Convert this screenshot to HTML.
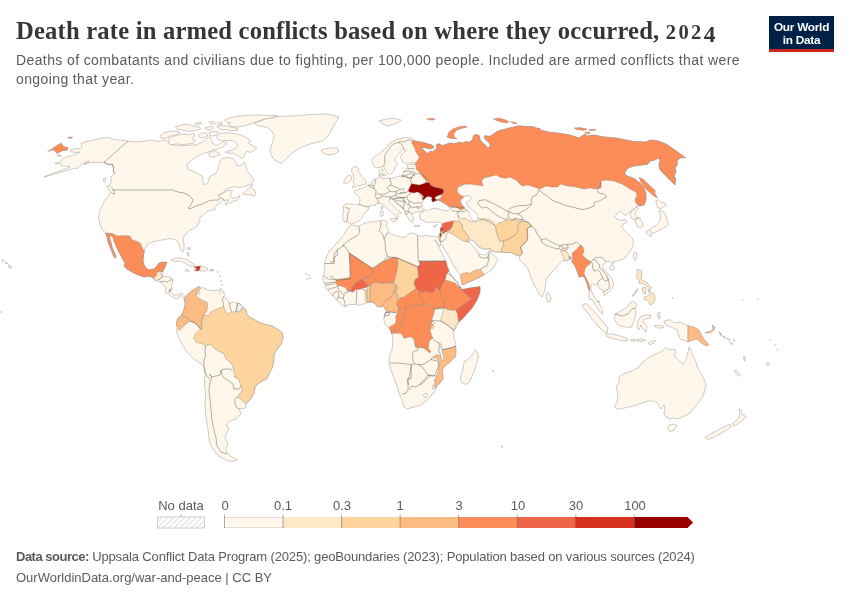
<!DOCTYPE html>
<html><head><meta charset="utf-8">
<style>
html,body{margin:0;padding:0;background:#fff;}
body{width:850px;height:600px;position:relative;overflow:hidden;font-family:"Liberation Sans",sans-serif;}
#title{position:absolute;left:16px;top:16.8px;font-family:"Liberation Serif",serif;font-weight:bold;font-size:24.6px;color:#363636;white-space:nowrap;letter-spacing:0.2px;}
#sub{position:absolute;left:16px;top:50.7px;font-size:14px;line-height:18.7px;color:#5b5b5b;white-space:nowrap;letter-spacing:0.39px;}
#logo{position:absolute;left:769px;top:16px;width:65px;height:33px;background:#002147;border-bottom:3px solid #ce261e;color:#fff;font-weight:bold;font-size:11.8px;line-height:12.6px;text-align:center;letter-spacing:-0.25px;}
#title .os{font-size:20.5px;letter-spacing:2.4px;}
#logo span{display:block;padding-top:5px;}
#src{position:absolute;left:16px;top:549.2px;font-size:13px;color:#5b5b5b;white-space:nowrap;letter-spacing:-0.15px;}
#src b{letter-spacing:-0.5px;}
#src2{position:absolute;left:16px;top:569.6px;font-size:13px;color:#5b5b5b;white-space:nowrap;}
.lg{position:absolute;top:497.5px;font-size:13px;line-height:15px;color:#5b5b5b;transform:translateX(-50%);white-space:nowrap;}
svg{position:absolute;left:0;top:0;}
#title,#sub,#src,#src2,.lg,#logo{will-change:transform;}
</style></head><body>
<svg width="850" height="600" viewBox="0 0 850 600">
<defs><pattern id="hatch" width="4" height="4" patternUnits="userSpaceOnUse" patternTransform="rotate(45)"><rect width="4" height="4" fill="#fff"/><line x1="0" y1="0" x2="0" y2="4" stroke="#d4d4d4" stroke-width="1.6"/></pattern></defs>
<g stroke="#8a8278" stroke-width="0.4" stroke-linejoin="round">
<path d="M81,143.6 86,141.6 94,140 102,138 109,137.4 113,139.2 120,140 128,141 136,142 144,141 152,140 158,141.6 164,140 170,142 169.9,144 177,145.7 188.3,145.4 196.8,144.7 199.7,143.3 202.5,141.9 206.8,138.3 210.3,136.9 211.7,140.5 213.1,144 215.3,145.4 218.1,144.7 222.3,141.9 225.9,141.9 226.6,144 223.8,146.8 219.5,148.3 216,149.7 212.4,150.4 208.2,152.1 202.5,153.9 196.8,156.8 190.5,161 186.9,164.5 188.3,169.5 194,171.6 199.7,174.5 203.2,176.6 202.5,180.8 203.9,184.4 207.5,183.7 208.9,180.1 209.6,176.6 215.3,173.8 218.1,169.5 218.8,165.3 220.2,161 222.3,158.2 228,157.5 233.7,158.9 235.8,162.4 237.2,166 240.8,165.3 244.3,162.4 246.4,166.7 247.1,170.9 250.7,175.2 253.5,179.4 253.5,181 252.5,182.5 250.5,184 248,185 244,186.5 240,187.5 236,187 232,187 228.5,188.5 225,190.5 222,193 219,195 218,196 220,194.8 224,192.5 228,190.5 232.5,190.5 231.5,193 230,195.5 231,197.2 234,198.5 237.5,197 239.7,195.5 239.7,198 237,200 233,201.5 229.5,203 226,204.7 225,203.5 227.2,201.8 228.8,200 226.5,200 224.5,200.5 223,200 220,202.5 217,205 214.5,207.5 215.5,208.5 215,209.5 212.5,210 209.5,210.5 207,211.5 205,213.5 203,215.5 200.5,217 199.5,219 200,220.5 199,223 197.5,226 194,228.5 190,230 186,234 183,238 184,244 184,249 183,252 181,251 180,247 178,242 176,240 172,238.6 167,239 162,240 157,241 152,242 147,245 144.4,250 143.6,254 143,260 144,265 146,268 149,270 154,269 157,266 159,263 163,262 167,262.4 165,267 163,271 162.4,276 170,277 173,280 172,284 171,289 169.2,289.6 171.7,292.5 173.3,294.6 175.8,295.4 178.3,294.2 180.4,292.9 182.9,293.8 184.6,295.8 185,298.3 184.6,301.7 183.8,298.8 182.5,297.5 181.2,295.4 179.2,295.8 178.8,297.9 176.7,299.2 174.2,297.5 172.1,296.7 170,295 167.5,293.3 165,292.5 166,288 163,284 160,282 155,280.4 153,278 150,276 144,277 138,275 132,272 127,269 124,266 125,263 122,258 119,252 116,246 114,241 113,237 110,235 109.6,238 111,242 112,247 114,252 116,256 115.6,258 114,257 112,252 110,247 108,242 107,237 105.6,233 103,230 100,225 98.4,218 100,210 104,202 109,195 112,190 114,190 114.4,194 112,193 109.6,188 109.6,185 111.2,182 110.6,179 111.6,176 114.4,174 113,172 113.6,168 112,164 108,164.4 104,162.4 98,162.4 92,162.4 84,164.4 89,161.6 88,161 81,165 77,169 76,168 68,170 44.4,177.2 44,176.6 70,167 69,166 64,166.4 61,165 60,161.6 63,158.4 68,156.4 76,154.4 80,152 76,152.4 70,151.6 71,149.6 77,148.4 80,149 82,147Z" fill="#fff7ec"/>
<path d="M105.6,233 112,233.6 118,236 125,235.6 130,236 132,240 136,241 140,243 142,247 143,250 144.4,250 143.6,254 143,260 144,265 146,268 149,270 154,269 157,266 159,263 163,262 167,262.4 165,267 163,271 161,271.6 157,272 156,276 153,278 150,276 144,277 138,275 132,272 127,269 124,266 125,263 122,258 119,252 116,246 114,241 113,237 110,235 109.6,238 111,242 112,247 114,252 116,256 115.6,258 114,257 112,252 110,247 108,242 107,237Z" fill="#fc8d59"/>
<path d="M153,278 156,276 157,272 161,271.6 161,275 162,277 159,280 155,280.4Z" fill="#fee8c8"/>
<path d="M47.6,151.6 52.4,148.4 61,143 63.6,146.4 68,147.6 67.6,150 62,151 57,153.6 54,150 51.6,150Z" fill="#fc8d59"/>
<path d="M67.6,138 70,137 72.8,137.2 70.4,138.4Z" fill="#fc8d59"/>
<path d="M55,163 59,162.6 59.2,163.6 55.6,164Z" fill="#fff7ec"/>
<path d="M57,155 61,155.2 61.2,156.2 57.6,156Z" fill="#fff7ec"/>
<path d="M103.2,179 105.6,178 105.6,180.4 104,182.4Z" fill="#fff7ec"/>
<path d="M106.6,186.4 109,185.6 114,190 114.4,194 112,193 109,190Z" fill="#fff7ec"/>
<path d="M321,150 328,148 337,148 339,151 335,154 328,155 323,153Z" fill="#fff7ec"/>
<path d="M242.5,193.5 245,191.5 248,189 251,185 252.5,184.5 251.5,187.5 253,189 255,190.5 255.8,193.5 254.5,196.2 252.5,195.8 251.5,194 249.5,195 247,194.5 244.5,194.5Z" fill="#fff7ec"/>
<path d="M171,260 176,258 182,258 188,260 192,263 195,265 194,266.4 189,265.6 185,263 180,261 175,261.6Z" fill="#fff7ec"/>
<path d="M194,267 196,266.4 201,266 200,268 199.6,270 198,271 194,270.4 197,269Z" fill="#d7301f"/>
<path d="M201,266 205,267 208,269 205,271 199.6,271 200,268Z" fill="#fff7ec"/>
<path d="M209.6,269.6 213.6,269.6 213.6,271 209.6,271Z" fill="#f0f0f0"/>
<path d="M185,270 188,269.4 189.6,271 186.4,271.8Z" fill="#fff7ec"/>
<path d="M187,248 190,247.6 190.4,249.2 188,249.6Z" fill="#fff7ec"/>
<path d="M187,252.4 189,252.4 189,255.6 187.6,255.6Z" fill="#fff7ec"/>
<path d="M8.4,265 11.2,266 11,268.4 9,267.6Z" fill="#fff7ec"/>
<path d="M5,262 7.6,263 7.2,264 5.2,263.2Z" fill="#fff7ec"/>
<path d="M2,260 3.6,260.4 3.4,261.2 2,261Z" fill="#fff7ec"/>
<path d="M160,136.2 164.3,132.7 169.9,131.3 177,131.3 179.8,132.7 175.6,134.8 169.9,136.2 165.7,138.3 161.4,138.3Z" fill="#fff7ec"/>
<path d="M168.5,138.3 174.2,136.2 181.3,134.1 188.3,134.8 194,133.4 194.7,136.2 191.9,139 195.4,140.5 193.3,143.3 188.3,144 182.7,144.7 177,144 171.3,144.7 167.8,143.3 169.2,140.5Z" fill="#fff7ec"/>
<path d="M175.6,127 181.3,124.9 188.3,124.2 194,126.3 199.7,127 200.4,129.1 195.4,130.5 188.3,131.3 182.7,129.8 177,129.1Z" fill="#fff7ec"/>
<path d="M194.7,123.5 200.4,122 201.1,123.5 196.1,124.9Z" fill="#fff7ec"/>
<path d="M198.3,134.8 202.5,132.7 206.8,133.4 207.5,136.2 203.9,137.6 199.7,137.6Z" fill="#fff7ec"/>
<path d="M208.9,132.7 213.8,131.3 218.8,132 216.7,134.8 212.4,136.2 209.6,135.5Z" fill="#fff7ec"/>
<path d="M205.3,127.7 210.3,126.3 213.8,127.7 211,129.8 206.8,129.8Z" fill="#fff7ec"/>
<path d="M208.9,122 213.1,121.3 215.3,123.5 211,124.2Z" fill="#fff7ec"/>
<path d="M217.4,122.8 221.6,122 222.3,124.2 218.8,124.9Z" fill="#fff7ec"/>
<path d="M216.7,126.3 222.3,125.6 228,126.3 233.7,127.7 237.9,128.4 237.2,130.5 230.8,130.5 225.2,129.8 219.5,129.1Z" fill="#fff7ec"/>
<path d="M224.5,119.9 230.8,117.8 236.5,116.4 245,115.4 256.3,115 267.7,115.4 277.6,115.7 271.9,117.8 264.8,119.2 259.2,120.6 253.5,122.8 247.8,124.9 242.2,126.3 236.5,127 230.8,126.3 228,124.2 230.8,122.8 226.6,122Z" fill="#fff7ec"/>
<path d="M216.7,136.2 220.9,133.4 226.6,132.7 233.7,133.4 240.8,134.8 246.4,137.6 250.7,140.5 248.5,143.3 253.5,146.1 257,147.5 254.2,150.4 250.7,152.5 247.1,151.1 245,153.9 243.6,157.5 240.8,158.2 237.2,155.3 233.7,153.2 229.4,153.2 225.2,152.5 226.6,151.1 232.3,150.4 236.5,147.5 237.9,144.7 235.1,141.9 230.8,140.5 226.6,140.5 222.3,140.5 218.1,139.8Z" fill="#fff7ec"/>
<path d="M208.9,153.2 213.8,150.4 218.1,152.5 220.2,154.6 216.7,156 213.1,157.5 209.6,156Z" fill="#fff7ec"/>
<path d="M254.2,123.5 259.2,121.3 264.8,119.2 271.9,117.8 278.3,116.4 278,116.4 298,115.6 310,114.4 328,114 339,117 336,122 332,129 328,136 324,140 318,142 310,144 300,148 292,153 286,159 281,163.6 276,161 272,157 270,150 271.9,144 273.3,139.8 274,135.5 271.9,131.3 267.7,127.7 262,126.3 257.8,125.6Z" fill="#fff7ec"/>
<path d="M184.9,299.8 186.5,295.7 190.6,291.6 194.8,289.1 198.9,286.3 200.2,288.3 202.2,287.4 208,289.9 213.8,290.7 219.5,289.9 223.7,291.6 224.5,295.7 223.7,296.5 227,299 229.4,303.1 233.6,302.3 237.4,303.1 240.2,303.9 242.6,307.2 243.5,308.1 245.9,309.7 246.8,313.8 249.2,317.1 254.2,319.6 260,322.9 265.8,324.6 272.4,326.2 278.1,329.5 282.3,332.8 283.1,337.8 281.4,343.6 277.3,349.3 274,354.3 273.7,360.9 272.4,367.5 269.1,374.1 266.6,379.1 264,380 259,383 255,387 254,393 252,397 249,401 246,404 245.6,408 241,409 237,408 239,409 241,414 236,419 230,421 226,426 229,428 227,432 225,438 228,444 226,449 227,453 230,456 234,458 237,460 232,461.6 226,460 220,457 215,452 211,446 209,440 208.4,432 207,424 205.6,414 205,404 205.6,394 204.4,384 205,374 204,367 203.8,365.8 198.9,362.5 193.1,358.4 188.2,353.5 184,347.7 179.9,340.3 177.4,334.5 176.3,329.5 177.4,327.9 176.3,323.8 177.4,319.6 179.1,317.1 181.6,315.5 183.5,310.5 185.2,304.8Z" fill="#fff7ec"/>
<path d="M208.8,315.5 210.4,312.2 215.4,309.7 219.5,308.1 223.7,306.4 225.3,310.5 227.8,313.8 231.9,312.2 236,311.4 238.5,311.7 241,309.7 243.5,308.1 245.9,309.7 246.8,313.8 249.2,317.1 254.2,319.6 260,322.9 265.8,324.6 272.4,326.2 278.1,329.5 282.3,332.8 283.1,337.8 281.4,343.6 277.3,349.3 274,354.3 273.7,360.9 272.4,367.5 269.1,374.1 266.6,379.1 264,380 259,383 255,387 254,393 252,397 249,401 246,404 242,400 237,397 242,391 241,386 239,380 234,376 236,377.4 233.6,371.6 232.7,365.8 229.4,361.7 226.1,359.2 223.7,353.5 217.9,351 213.8,347.7 210.4,344.4 205.5,346 202.2,343.6 196.4,342.7 193.9,338.6 194.8,334.5 198.1,331.2 202.2,328.7 201.4,324.6 202.2,318.8 203.8,314.7Z" fill="#fdd49e"/>
<path d="M198.9,286.3 200.2,288.3 197.2,292.4 196.4,295.7 198.9,298.2 203,300.6 207.1,302.3 207.6,306.4 206.7,311.4 203.8,314.7 202.2,318.8 201.4,324.6 201.7,328.7 200.5,329.2 197.2,324.6 192.3,322.1 188.2,318.8 184.9,317.1 181.6,315.5 183.5,310.5 185.2,304.8 184.9,299.8 186.5,295.7 190.6,291.6 194.8,289.1Z" fill="#fdbb84"/>
<path d="M181.6,315.5 184.9,317.1 188.2,318.8 189.5,321.3 185.7,324.6 181.6,327.9 179.1,330.4 177.4,327.9 176.3,323.8 177.4,319.6 179.1,317.1Z" fill="#fdbb84"/>
<path d="M237.4,303.1 240.2,303.9 242.6,307.2 241,309.7 238.5,311.7 236,311.4 236.9,307.2Z" fill="#f2f2f2"/>
<path d="M197.4,290.9 199.4,290.6 199.7,293.5 198.1,294.2Z" fill="#fff"/>
<path d="M372.1,159.2 374.2,156.7 377.5,155 380.8,152.5 384.2,149.6 387.1,146.2 390,143.3 393.3,140.8 397.5,139.2 401.7,138.3 405.8,137.5 410,137.7 412.9,138.8 414.6,140.4 415,141.2 419.2,141.7 423.3,142.5 427.5,143.8 431.7,145 433.8,146.7 432.9,148.3 430,148.8 426.7,147.9 423.3,147.5 420.4,147.9 423.3,149.6 425,151.2 426.2,152.9 427.9,153.3 429.2,152.1 430.8,151.2 432.9,151.7 434.6,150 437.1,148.8 436.3,144.7 438.8,143.8 442.1,145.5 444.6,145 449.5,143 454.5,143.8 459.4,142.2 463.6,143 465.2,141.4 469.3,142.2 472.6,139.7 473.5,135.6 475.9,134.4 479.2,135.6 480.1,139.7 482.5,143 485.8,145.5 487.5,148 490,147.1 490,143.8 486.7,140.5 484.2,138.1 485,135.6 489.2,136.4 492.5,134.8 495.8,132.3 499.1,130.6 505.7,129 512.3,127.3 518.9,125.7 525.5,126.5 532.1,126.5 537,128.2 540,128.5 540,130 550,132.4 558,133 570,135 576,137 579,138 585,134 587,136 594,135 604,137 616,138 626,140 634,141.6 646,142 650,140 658,141 666,144 672,148 679,153 685.6,157.6 680,158 677,161 677.6,164 675,168 676,172 674,176 675.6,179 675,185 670,180 664,174 660,170 659,165 660,160 658,158 655,160 650,161 648,164 642,165 634,166 628,168 625,172 625,175 630,177 635,179 640,183 644,188 646,194 646,200 644,205 639,206 638.4,205.5 636.8,206.3 638.4,208.8 635.9,211.3 635.1,214.6 636.8,217.1 640.1,218.7 642.5,222.8 643.4,226.1 640.9,227.8 637.6,227 635.9,222.8 635.1,219.5 631.8,218.7 630.2,215.4 631,211.3 627.7,213.8 625.2,215.4 622.7,213.3 620.3,211.3 617,213.8 614.5,217.1 617.8,219.5 621.9,220.4 625.2,219.5 626.9,222 623.6,223.7 621.9,227 625.2,231.1 629.3,235.2 632.6,238.5 633.5,243.5 631.8,248.4 629.3,252.5 626,256.7 621.9,260 620,259.5 617,261 613,261.5 613.5,263.5 612,264.5 611,262.5 609,261.5 606,261.5 604,264 602.5,266.5 603.5,269 606.5,272 609.5,275.5 612,279 613.5,283 613,287 610,291 606.5,294 604.5,295.5 603.5,293 603,290 600,289 598.5,287 597.5,284.5 595,285 593,283.5 591.5,285 591,288 591.5,291 593,294.5 595,298 596,300 597,301 599,303 602,309 603,314 600,312 596,306 592,299 590,300 588.5,296 589,293 589.5,291 588.5,289 587.5,285 586,281 584.5,277.5 582,276 580,277 579,277 577,271 575,266 572,262 570,257 568,260 565,261 563,260 560,263 555,269 550,274 546,280 545,290 542,297 540,295 535,286 531,278 528,269 524,264 523,263 520,260 519,257 522,254 520,255 517,255.5 514,253.5 510,252.5 506,252.5 501,252 496,252 492,251 489.5,248 486.5,249 483,249 480,247.5 477,245 475,242.5 473,240 470,240 467.5,241 469,242.5 471,244 473,246.5 475.5,249 476.5,251.2 477.2,250.5 478.5,251.5 478.2,253.5 479.5,254 481.5,254.5 484,255 487,254 489,251.5 489.7,249.5 491,253 494,256 497,258.5 497.8,260.5 496,263 494.5,266 492,269 489.5,271.5 487,273 484,274.7 480,277 475,279.5 470,281.5 466,283.5 462.5,285 461.5,282 461,276 459.5,274 457,270.5 454,266 451,261 448,255 445,250 442,245 440,241.5 440,241.5 438.5,236.5 439.2,235 440.4,232.1 440.8,227.9 441.8,224.2 440.8,222.5 438.3,222.1 435,222.5 431.7,222.1 428.3,222.5 425,221.7 422.5,220 420,219.2 420.4,218.3 419.6,215.8 420,213.8 420.7,212.1 421.7,211.8 423.8,212.1 424.3,211.2 422.1,210 420.4,210.8 418.8,212.1 417.5,211.7 415.8,212.5 414.2,213.8 412.9,212.9 411.7,213.8 412.1,215.8 413.3,217.5 414.2,219.2 412.5,220 412.9,221.7 411.7,222.5 410,221.2 408.8,219.2 407.5,217.1 406.2,215.4 405,213.8 404.6,211.7 404.2,210 402.9,208.8 400.8,207.1 398.3,205 396.2,202.9 394.2,201.2 392.9,199.6 391.7,198.8 390.4,199.2 388.8,200 389.6,201.7 391.2,203.8 392.9,205.8 395,207.9 397.5,210 399.6,211.2 401.7,212.9 400.8,213.8 398.8,212.9 397.5,214.2 398.8,216.2 397.9,217.9 397.3,219.3 396,219 396.2,216.2 394.2,214.6 391.7,212.5 389.2,210.4 386.7,208.3 384.2,205.8 382.1,203.8 380,202.9 377.9,203.2 375,205 375.8,205 373.3,205.4 370.8,205 369.2,206.7 369.2,207.9 367.9,210.4 365,212.5 362.5,215.8 361.7,218.3 359.2,220.8 355.8,222.5 352.9,223.3 350.8,224.2 349.2,222.9 347.1,221.7 343.8,221.7 342.9,219.2 342.5,215.8 343.8,211.7 343.3,208.3 343.3,205.8 346.7,203.8 351.7,204.2 359.2,205 359.6,202.5 360,200 359.6,197.5 357.9,195.4 355.4,193.8 353.8,191.7 355.8,190.4 359.2,190 359.6,188.3 361.7,188.8 364.2,187.5 366.7,185.8 367.9,184.6 369.6,185.4 371.7,182.9 372.9,180.8 375,179.2 377.5,178.8 378.8,177.5 379.2,175 378.8,172.5 378.8,170.8 380.4,169.2 382.5,168.8 383.3,170 382.1,172.5 381.7,174.6 382.9,175.4 380.4,177.9 383.3,178.8 386.7,178.3 390,178.3 393.3,177.9 396.7,176.7 399.2,176.2 401.2,175.8 402.9,175 403.3,172.9 403.8,170.8 405.8,169.2 407.1,168.3 407.9,169.6 408.3,168.8 407.5,166.7 406.7,165 410,164.6 415,164.3 416.2,163.8 415,162.9 410,162.9 406.7,163.3 404.6,162.9 402.5,161.7 401.7,160 400.8,157.9 401.2,155.8 402.5,153.8 404.2,151.7 406.2,150.4 404.2,149.6 402.5,150 400.8,151.7 399.2,153.8 397.5,155.8 395.4,157.9 394.6,160 396.2,162.1 397.5,163.3 397.1,165.4 395.4,166.7 394.6,168.8 394.2,170.8 392.9,172.5 390.8,173.8 389.2,174.2 387.5,173.3 386.2,171.7 385,169.2 383.8,167.1 383.3,165.8 381.7,166.7 379.6,167.5 377.1,167.9 375,167.1 373.3,165 372.5,162.5 371.8,160.4Z" fill="#fff7ec"/>
<path d="M412.9,140.8 414.6,140.4 415,141.2 419.2,141.7 423.3,142.5 427.5,143.8 431.7,145 433.8,146.7 432.9,148.3 430,148.8 426.7,147.9 423.3,147.5 420.4,147.9 423.3,149.6 425,151.2 426.2,152.9 427.9,153.3 429.2,152.1 430.8,151.2 432.9,151.7 434.6,150 437.1,148.8 436.3,144.7 438.8,143.8 442.1,145.5 444.6,145 449.5,143 454.5,143.8 459.4,142.2 463.6,143 465.2,141.4 469.3,142.2 472.6,139.7 473.5,135.6 475.9,134.4 479.2,135.6 480.1,139.7 482.5,143 485.8,145.5 487.5,148 490,147.1 490,143.8 486.7,140.5 484.2,138.1 485,135.6 489.2,136.4 492.5,134.8 495.8,132.3 499.1,130.6 505.7,129 512.3,127.3 518.9,125.7 525.5,126.5 532.1,126.5 537,128.2 540,128.5 540,130 550,132.4 558,133 570,135 576,137 579,138 585,134 587,136 594,135 604,137 616,138 626,140 634,141.6 646,142 650,140 658,141 666,144 672,148 679,153 685.6,157.6 680,158 677,161 677.6,164 675,168 676,172 674,176 675.6,179 675,185 670,180 664,174 660,170 659,165 660,160 658,158 655,160 650,161 648,164 642,165 634,166 628,168 625,172 625,175 630,177 635,179 640,183 644,188 646,194 646,200 644,205 639,206 636,203 635,200 637,195 636,192 630,189 622,184 614,181 606,180 601,181 601,188 596,189 590,188 584,189 576,187 568,186 560,184 558,187 552,187 546,186 540,189 534,187 528,185 522,186 516,180 510,177 505.5,178.3 500.5,177.4 496.4,175 489.8,176.6 483.2,178.3 481.6,181.6 483.2,185.7 476.6,184.9 470,184 464.4,184.3 459.4,186.8 465,183.3 461.7,184.6 458.8,186.2 457.5,188.3 457.1,191.7 459.2,194.2 461.7,195.8 464.2,196.7 462.9,197.9 460.8,199.2 460,201.7 461.7,205 464.2,207.5 465,208.2 462.9,209.2 460.8,210 458.3,208.3 455.8,207.1 452.5,206.7 449.2,207.1 446.7,205 443.3,202.9 440.4,201.2 438.3,200.4 438.3,199.2 440.4,197.9 441.7,196.2 441.2,194.6 443.3,192.9 443.8,190 441.7,188.8 438.3,187.9 434.2,187.1 430.8,185.4 429.2,182.5 423.1,177.7 420.6,173.6 416.5,169.4 415.7,165.3 415.4,163.3 416.7,161.7 418.3,159.2 419.2,156.7 417.5,154.2 415.8,151.7 415,148.3 413.3,145.4 411.7,142.9Z" fill="#fc8d59"/>
<path d="M408.3,190.4 410.4,185.8 411.7,183.8 415,184.2 419.2,185 423.3,183.8 426.2,182.5 429.2,182.5 430.8,185.4 434.2,187.1 438.3,187.9 441.7,188.8 443.8,190 443.3,192.9 441.2,194.6 438.3,195.4 435.8,196.7 434.8,197.9 435.8,199.3 437.9,199.8 436.7,200.8 434.6,201.2 433.3,202.5 432.1,201.2 431.2,199.6 432.1,198.3 430.8,197.1 428.3,196.7 426.7,197.1 425,198.3 424.2,199.6 422.1,199.6 422.5,197.9 423.8,197.1 422.5,195.4 420.8,193.8 419.2,192.5 416.7,192.1 414.2,192.9 411.7,192.5 409.2,192.1Z" fill="#990000"/>
<path d="M401.2,176.2 402.9,175.2 405.4,175.7 405.8,176.7 401.7,176.8Z" fill="#fc8d59"/>
<path d="M639.2,177.4 640.6,181.6 643.9,186.5 647.2,190.6 650.5,193.1 652.9,195.6 657.4,197.7 655.8,194.8 654.6,192.3 655.3,190.6 652,187.8 648.7,184.5 645.4,181.2 642.5,178.8Z" fill="#fc8d59"/>
<path d="M447.1,137.2 448.7,132.3 452.8,129 459.4,126.5 466,126 466.9,127.3 461.1,128.5 456.1,130.6 453.7,133.9 454.5,137.2 457,138.9 451.2,138.4Z" fill="#fc8d59"/>
<path d="M426.4,119.1 431.4,118.3 435.5,119.1 432.2,120.2Z" fill="#fc8d59"/>
<path d="M493.3,119.1 499.1,117.9 505.7,119.9 509,121.9 505.7,122.9 499.1,121.6Z" fill="#fc8d59"/>
<path d="M510.6,121.6 515.6,122.4 517.2,124 513.1,123.5Z" fill="#fc8d59"/>
<path d="M574,128 580,127.6 587,129 584,130.4 577,129.6Z" fill="#fc8d59"/>
<path d="M589,129.4 596,129.6 595,130.6 589.6,130.4Z" fill="#fc8d59"/>
<path d="M585,132 590,132.4 589,134 585.6,133.6Z" fill="#fc8d59"/>
<path d="M379,121 386,119 394,118.4 401,120 398,122.4 394,124 388,126 383,124Z" fill="#fff7ec"/>
<path d="M422.1,203.3 422.9,201.2 424.6,199.2 426.7,197.1 428.3,196.7 430.8,197.1 432.1,198.3 431.2,199.6 432.1,201.2 433.3,202.5 434.6,201.2 436.7,200.8 438.3,200.4 440.4,201.2 443.3,202.9 446.7,205 449.2,207.1 450,208.8 448.3,210.4 445,210.8 441.7,210 438.3,208.8 435,208.3 431.7,208.8 429.2,210 426.7,210.4 424.2,209.6 422.5,207.9 421.7,205.4Z" fill="#fff"/>
<path d="M435,197.9 436.7,196.7 439.2,195.8 441.2,195 441.7,196.2 440.4,197.9 438.3,199.2 436.2,199.3Z" fill="#fff"/>
<path d="M461.2,199.8 464.5,196.5 469.4,195.6 471.9,198.1 469.4,200.6 466.1,202.2 467.8,206.4 471.1,208.8 474.4,211.3 476.8,214.6 478.5,218.7 476,221.2 472.7,220.4 470.2,217.1 469.4,212.9 466.9,209.6 463.6,206.4 461.2,203.1Z" fill="#fff"/>
<path d="M351.7,168.8 353.8,166.7 356.7,166.5 357.9,167.9 359.2,169.2 357.9,171.2 360,173.3 362.1,176.7 364.2,179.2 366.5,181.2 366.2,183.3 364.2,184.6 361.7,185 358.3,185.8 355.4,186.7 352.9,187.9 351.7,187.3 353.8,185.4 355,183.8 352.9,182.9 353.8,180.8 354.6,178.8 352.9,177.5 353.8,175 352.1,172.9 351.7,170.8Z" fill="#fff7ec"/>
<path d="M343.3,182.9 344.6,180.4 345.8,177.5 348.3,175.4 350.8,175.4 351.7,177.5 351.2,180 349.2,182.1 346.2,183.3Z" fill="#fff7ec"/>
<path d="M389.6,219.2 393.3,218.3 396.7,218.8 396.2,220.8 394.6,222.1 391.7,220.8Z" fill="#fff7ec"/>
<path d="M380.4,211.2 382.5,210.8 383.8,212.9 382.9,215.8 381.2,216.7 380.4,214.6Z" fill="#fff7ec"/>
<path d="M380.8,206.7 382.5,205.8 382.9,208.3 381.7,209.6Z" fill="#fff7ec"/>
<path d="M433.3,226.2 435,225.4 437.5,224.6 436.7,225.8 435.4,227.1 433.8,227.1Z" fill="#fff7ec"/>
<path d="M414.2,225.4 416.7,225 420,225.7 419.6,226.7 416.2,226.5 414.6,226.2Z" fill="#fff7ec"/>
<path d="M382.9,174.2 385,173.8 385.8,175.4 383.8,176.2Z" fill="#fff7ec"/>
<path d="M330,250 333.3,247.1 338.3,241.3 343.2,235.5 346.5,230.5 348.3,227.5 350.8,224.6 354.2,225.4 358.8,226.2 363.3,223.8 368.3,222.1 374.2,221.7 380,220.8 383.3,220.4 386.7,221.2 387.1,222.9 385.8,225 387.1,227.5 388.8,229.6 388.3,232.1 391.1,233.8 396,235.5 401,237.1 405.9,237.1 408.4,233.8 412.5,233 416.7,234.7 420,236.3 425.8,235.5 432.4,236.3 437.3,237.1 438.5,236.5 440,241.5 440.4,245 439.8,246.7 437.9,244.2 435.8,240.8 434.8,239.8 434.2,240.4 435.4,240.2 438.8,246.7 441.2,251.7 443.8,256.7 445.4,260 445.6,261.1 447.5,266.9 449.2,271.3 451.3,275.9 455.5,280.9 460.4,286.7 462.1,289.2 462,289.6 470,288 480,286.6 480,292 477,300 472,308 465,316 459,322 456,328 453,330 454,338 456,345 455,350 456,350 455,357 451,361 446,365 442,369 441.6,374 443,379 440,383 437,385 436,388 435,391 431,396 426,401 421,405 414,407 407,409 404,407 402,400 399,393 397,386 394,378 391,370 389,363 389.6,356 392,350 393,342 392.4,336 391,331 389,328 385,324 383.6,319 385,313 384.5,318 385.2,313.8 387.3,312.3 385.9,309.5 383.8,306 380.9,307.4 377.4,306.7 375.3,303.8 372.4,302.4 368.2,302.4 363.9,303.8 359.7,305.3 355.4,304.5 349.8,304.5 345.5,306.7 341.3,304.5 337,300.3 332.8,296 329.9,292.5 327.8,289.7 325,287.5 325.7,285.4 324.3,283.3 322.8,279.8 323.5,275.5 325,269.8 324.3,263.5 325,261.3 327.1,255.7 329.9,250Z" fill="#fff7ec"/>
<path d="M349,252.8 371.7,267.7 373.1,268.4 372.7,273.4 371,276.2 366.8,277.6 363.2,278.3 360.4,279.8 357.5,281.9 354,284.7 351.9,288.3 350.5,291.1 347.6,291.1 345.5,287.5 341.3,286.1 337.7,285.4 335.6,282.6 336.3,279.8 349.8,277.6 350.5,276.9 350,264.2Z" fill="#fc8d59"/>
<path d="M351.9,288.3 354,284.7 357.5,281.9 360.4,279.8 362.5,279 365.3,281.9 367.5,284.7 368.2,286.1 366,287.5 362.5,288.5 358.3,289.4 354.7,289.7 354,291.8 351.5,291.8 350.9,290.4Z" fill="#ef6548"/>
<path d="M373.1,268.4 385.9,259.9 393.7,257.1 397.2,257.8 397.9,262 397.6,267 396.5,272.7 395.1,277.6 393.7,282.6 389.4,283.3 385.2,283.3 380.2,282.9 376,282.3 372.4,282.9 370.3,285.4 368.2,286.1 367.5,284.7 365.3,281.9 363.2,278.8 366.8,277.6 371,276.2 372.7,273.4Z" fill="#fc8d59"/>
<path d="M397.2,257.8 417.8,266.3 418.5,277.6 414.9,279.8 414.2,284 416.3,288.3 412.8,291.1 408.5,293.9 403.6,297.5 400,298.2 397.2,294.6 394.4,291.1 397.2,288.3 395.8,285.4 393.7,282.9 395.1,277.6 396.5,272.7 397.6,267 397.9,262Z" fill="#fdd49e"/>
<path d="M370.3,285.4 372.4,282.9 376,282.3 380.2,282.9 385.2,283.3 389.4,283.3 393.7,282.9 395.8,285.4 395.1,289 393.7,292.5 391.5,296 389.4,298.9 386.6,300.3 383.8,303.1 382.3,306 379.5,306.7 376.7,306 374.5,303.1 370.3,301.7 369.6,298.2 369.6,292.5Z" fill="#fdbb84"/>
<path d="M393.7,292.5 395.1,289 395.8,285.4 397.2,288.3 396.5,291.8 394.4,291.1 397.2,294.6 398.6,298.9 397.2,301.7 397.2,305.3 398.6,308.1 399.3,311.6 395.1,312.3 390.1,311.6 385.9,310.9 384.5,308.1 382.3,306 383.8,303.1 386.6,300.3 389.4,298.9 391.5,296Z" fill="#fdbb84"/>
<path d="M367.5,286.8 370.3,285.4 369.6,292.5 369.9,301.7 367.9,302.1 367.5,296.8 366.8,291.1Z" fill="#fdd49e"/>
<path d="M365.1,290.4 366.8,289.7 367.5,296.8 367.9,302.1 366,302.4 365.3,296.8Z" fill="#fdd49e"/>
<path d="M397.2,301.7 400,298.2 403.6,297.5 408.5,293.9 412.8,291.1 416.3,288.3 419.2,291.1 420.6,295.3 423.4,299.6 426.3,303.8 424.1,304.5 419.2,305.3 414.9,306 410.7,306.7 407.1,306 405,308.8 402.2,309.5 400.8,312.3 399.3,311.6 398.6,308.1 397.2,305.3Z" fill="#fc8d59"/>
<path d="M419.9,261.3 446,261 447,266 449,271 447,273 445,280 442,285 440,290 438,289 436,287 434,292 430,293 426,291 423,293 419.2,291.1 416.3,288.3 414.2,284 414.9,279.8 418.5,277.6 417.8,266.3 419.9,265.9Z" fill="#ef6548"/>
<path d="M419,291 423,293 426,291 430,293 434,292 436,287 438,289 440,290 441,296 444,301 443.7,307.8 438,308.5 433.8,308.8 428.8,306.4 424,302 420,297Z" fill="#fc8d59"/>
<path d="M445,280 449,281 455,283 460,288 463,291 468,296 473,298 462.1,305.7 457.8,308.5 455.7,309.9 452.2,310.6 447.2,309.2 443.7,307.8 444,301 441,296 440,290 442,285Z" fill="#fc8d59"/>
<path d="M462,289.6 470,288 480,286.6 480,292 477,300 472,308 465,316 459,322 459.3,322 458.5,321.3 457.8,317 457.1,312.8 455.7,309.9 457.8,308.5 462.1,305.7 473,298 468,296 463,291Z" fill="#ef6548"/>
<path d="M406.8,306.4 410.4,305.7 415.3,306.4 420.3,305 425.3,304.3 428.8,306.4 433.8,307.8 434.5,310.6 433,315.6 431.6,321.3 430.9,326.2 430.2,330.5 431.6,335.4 433,338.3 429.5,340.4 428.8,343.9 428.1,348.9 430.2,350.3 430.9,352.1 429.2,352.7 426.7,350.3 423.8,348.2 419.6,347.5 415.3,346.8 414.6,343.2 413.9,339 410.4,336.8 407.5,337.5 404,338.3 401.9,334.7 400.5,333.3 392.7,333.3 391.3,331.2 393.4,330.5 398.3,330.5 400.5,326.9 401.9,322.7 403.3,318.4 404,314.2 404.7,309.9Z" fill="#fc8d59"/>
<path d="M398.3,309.2 402.6,310.6 404.7,308.5 406.8,306.4 404.7,309.9 404,314.2 403.3,318.4 401.9,322.7 400.5,326.9 398.3,330.5 393.4,330.5 391.3,331.2 389.1,328.3 390.5,326.2 393.4,324.8 395.5,323.4 396.2,319.8 395.5,316.3 397.6,313.5Z" fill="#fc8d59"/>
<path d="M443.7,307.8 447.2,309.2 452.2,310.6 455.7,309.9 457.1,312.8 457.8,317 458.5,321.3 455.7,325.5 454.3,330.5 452.2,329 447.2,324.8 440.8,321 441.5,317 443,312.8Z" fill="#fee8c8"/>
<path d="M431.2,325.2 433,324.8 433.8,326.9 432.3,329 430.9,328.3Z" fill="#fdd49e"/>
<path d="M442.3,349.6 446.5,348.9 452.2,347.5 455.7,346 456.1,351 455.7,356.7 452.9,359.5 448.6,363 445.1,365.9 443,368.7 442.3,372.3 443.4,376.5 442.3,380 439.4,382.9 438,385 437,385 436,388 434.4,385 435,380 434.5,380.8 435.9,376.5 438,372.3 438.7,368 439.4,363.8 438,359.5 435.9,358.1 432.3,357.4 436.6,354.5 440.8,356 441.5,359.5 442.3,360.9 443.7,359.5 443.7,356 442.3,352.4Z" fill="#fdbb84"/>
<path d="M475.5,349.6 477.4,352.4 478.4,356.7 477,362.3 474.8,369.4 472,376.5 469.2,382.2 466.3,384.3 462.8,383.6 460.7,380.8 460.7,375.8 462.8,370.8 463.5,365.2 464.2,361.6 467.8,359.5 471.3,356 474.1,351.7Z" fill="#fff7ec"/>
<path d="M423,395 426,393 428,395.6 425,398Z" fill="#fff7ec"/>
<path d="M432,385.6 433.6,385 434.4,388 432.6,389Z" fill="#fff7ec"/>
<path d="M442.1,223.8 445,222.5 449.2,221.7 453.8,220.8 452.9,223.8 452.5,226.2 450.8,228.8 448.3,230.4 445.8,231.7 443.3,233.3 442.1,232.5 442.9,230.4 441.8,228.8 442.3,226.2Z" fill="#ef6548"/>
<path d="M440.8,227.9 442.1,227.1 442.9,228.8 442.3,230.8 440.8,232.1 440.4,230Z" fill="#d7301f"/>
<path d="M439,235.4 440.4,232.5 441.5,232.5 441.8,234.2 441.2,236.7 440.4,239.2 440,241.2 439.3,238.8Z" fill="#fdd49e"/>
<path d="M439.8,233.8 440.8,233.2 441.2,235 440.8,236.7 440,236.2Z" fill="#990000"/>
<path d="M452.9,223.8 453.8,221.2 455.8,220.8 459.2,221.7 461.2,223.3 462.9,226.2 462.5,228.8 464.2,230.8 466.2,233.3 468.3,235.8 469.2,238.8 467.9,240 466.7,241.7 464.2,241.2 461.7,240 459.2,238.3 455.8,236.2 452.5,234.2 449.6,232.9 448.8,231.5 450.8,228.8 452.5,226.2Z" fill="#fdd49e"/>
<path d="M457.9,215.8 460,217.9 461.7,219.2 465,218.3 471.1,222 477.6,221.2 484.2,218.7 489.2,219.5 494.1,222.8 494.8,225.3 495.6,226.1 496.4,231.9 498.1,236.9 499.7,241 503,241 503.8,245.1 501.4,249.2 502.2,252.1 501,252 496,252 492,251 489.5,248 486.5,249 483,249 480,247.5 477,245 475,242.5 473,240 470.4,240 469.2,238.8 468.3,235.8 466.2,233.3 464.2,230.8 462.5,228.8 462.9,226.2 461.2,223.3 459.2,221.7 458.8,219.2Z" fill="#fee8c8"/>
<path d="M495.6,226.1 498.9,222.8 503,222 507.1,219.5 510.4,220.4 513.8,218.7 515.4,217.9 517.1,221.2 522.8,220.4 524.5,221.2 519.5,222.8 517.9,226.1 518.2,231.1 515.4,235.2 512.1,236.9 508.8,239.3 503,241 499.7,241 498.1,236.9 496.4,231.9Z" fill="#fdd49e"/>
<path d="M519.5,222.5 524.5,220.8 527.8,222 531.9,226.1 527.8,227.8 527,231.1 527.8,235.2 527,240.2 524.5,243.5 520.4,246.8 521.2,249.2 522,254 520,255 517,255.5 514,253.5 510,252.5 506,252.5 501,252 501.4,249.2 503.8,245.1 503,241 508.8,239.3 512.1,236.9 515.4,235.2 518.2,231.1 517.9,226.1Z" fill="#fdd49e"/>
<path d="M461,274.5 463.5,273 467,272.5 470,273.5 472.5,271.5 476,270 480.5,269 481.5,271 483.5,274 484,274.7 480,277 475,279.5 470,281.5 466,283.5 462.5,285 461.5,282 460.8,278Z" fill="#fdbb84"/>
<path d="M560.5,250.9 564.1,250.6 567.4,252.2 569.1,255.8 569.1,260 567.4,260.5 564.9,260 563.3,256.7 561.6,253.4Z" fill="#fee8c8"/>
<path d="M580,244.4 583,247 584,251 582.5,255 585,258 588,260 591,262 589.5,264.5 587,266 585,269 584,273 585.5,277 587,280 588.5,283 590,287 589.5,291 588.5,289 587.5,285 586,281 584.5,277.5 582,276 580,277 579,277 577,271 575,266 572,262 573,257 572,253 576,250 579,247Z" fill="#fc8d59"/>
<path d="M637,270 639.5,269.5 641.5,270.5 642,274 641,277 641.5,280 644,281 646,282 648,284 650,286 651.5,288 650,289 648,287 645.5,285 643,284 640.5,283 639,284 639.5,281.5 638,279.5 636.5,277 637.2,273.5Z" fill="#fee8c8"/>
<path d="M642,288 645,287 646.5,289 645,291 646,293.5 644,294 642.5,291Z" fill="#fee8c8"/>
<path d="M648,289 650,290 650.5,292 648.5,292.5Z" fill="#fee8c8"/>
<path d="M644,297 647,296 650,294 652.5,293 654.5,294.5 655,298 654.5,301 652.5,304 650,305 649,302 646.5,300 644.5,299.5Z" fill="#fee8c8"/>
<path d="M632,296 634,293.5 636,290.5 637.8,288.5 638.2,289.2 636.5,291.5 634.5,294.5 632.8,296.5Z" fill="#fee8c8"/>
<path d="M547,292.4 549,293 551,298 550,302 547,301.6 546,297Z" fill="#fff7ec"/>
<path d="M609.5,267 611,265.5 613.5,265.5 614.5,267.5 613,270 610.5,270Z" fill="#fff7ec"/>
<path d="M633.5,254 635,252 636.5,252.5 637,256 635.5,260.5 634,259 633.3,256.5Z" fill="#fff7ec"/>
<path d="M582.4,304.4 586,303.6 592,309 598,316 604,323 608,328 607,333 604,332 598,326 592,319 587,312 583,307Z" fill="#fff7ec"/>
<path d="M606,334 612,334 620,336 628,339 627,341 619,340 611,338 606,336Z" fill="#fff7ec"/>
<path d="M615,314 619,312 625,309 630,303 632,301 637,304 635,308 636,314 634,321 631,328 626,327 621,326 617,324 614.4,319Z" fill="#fff7ec"/>
<path d="M640,317 646,315 651,315 650,318 645,319 643,322 647,326 646,332 643,329 641,325 639,330 637,328 637.6,322Z" fill="#fff7ec"/>
<path d="M631,339.6 635,339 635.6,340.6 631.6,341.2Z" fill="#fff7ec"/>
<path d="M637,339.6 642,339 646,340 642,341.6 637.6,341.2Z" fill="#fff7ec"/>
<path d="M648,343 652,341 655.6,340.4 654.4,342.4 650,345Z" fill="#fff7ec"/>
<path d="M657.6,313 659.6,312.4 660,318 658.4,319Z" fill="#fff7ec"/>
<path d="M654,326 659,325.2 664,326.4 663,328 657,328Z" fill="#fff7ec"/>
<path d="M664,321 670,319.6 674,323 680,322 688,325.6 688,342 683,340 680,339 677,330 673,328 668,326 665,324Z" fill="#fff7ec"/>
<path d="M655.8,200.5 658.2,199.7 660.7,202.2 664.8,203 666.5,205 663.2,207.1 660.7,208.8 658.2,208 656.6,204.7Z" fill="#fff7ec"/>
<path d="M659.1,210.4 663.2,211.3 665.7,215.4 667.3,219.5 668.1,224.5 665.7,227 662.4,228.6 659.1,230.3 655.8,231.9 652.5,233.6 650,232.7 649.2,229.4 652.5,227 656.6,225.3 659.1,222 660.7,217.9 659.9,213.8Z" fill="#fff7ec"/>
<path d="M646.7,231.1 650,230.3 651.6,233.6 650.8,236.9 648.3,235.2 646.7,233.6Z" fill="#fff7ec"/>
<path d="M620,376 625,373 632,371 639,367 643,362 648,358 653,355 659,353 663,350 666,347.6 669,350 675,349 676,352 674,356 679,360 683,364 686,360 687.6,354 689,347 691,350 693,356 696,362 698,369 702,375 704,379 706,384 705,390 703,396 699,402 695,407 691,412 687,415 682,417 677,419 674,418 670,419 666,417 664,413 665,408 664,405 661,409 659,407 658,403 654,401 648,401 642,403 636,405 630,407 624,408 618,409.6 614.4,407 617,402 618,396 617,390 616.4,386 619,383 619,378Z" fill="#fff7ec"/>
<path d="M669,425 674,424 677,425.6 674,430 670,431.6 667.6,429Z" fill="#fff7ec"/>
<path d="M739,409 741,410 742.4,415 746,416.4 743,420 739,423 734,426 732,424 736,421 739,418 739.6,414Z" fill="#fff7ec"/>
<path d="M730,424.4 731,427 725,431 718,435 712,438 707,439.6 705,437.6 709,435 716,431 723,427.6 728,425Z" fill="#fff7ec"/>
<path d="M734.4,371 736,370 740,375 738.4,376.4Z" fill="#fff7ec"/>
<path d="M743.6,356 744.8,356.4 745.2,361 744,360.4Z" fill="#fff7ec"/>
<path d="M766,363.6 769,362.4 770,364.4 767,365.6Z" fill="#fff7ec"/>
<path d="M688,325.6 694,327 699,330 701,334 704,339 709,345 706,346 701,343 697,339 693,340 688,342Z" fill="#fdbb84"/>
<path d="M705,333 710,333 714,330 715,327 712,325 713,329 710,331.6 706,332Z" fill="#fdbb84"/>
<path d="M719,331.6 720.6,333 722,336 720.4,335Z" fill="#fdbb84"/>
<path d="M723,336 725.6,337.2 725.2,338 722.8,336.8Z" fill="#fff7ec"/>
<path d="M727,338 730,339.6 729.6,340.4 726.8,338.8Z" fill="#fff7ec"/>
<path d="M730.4,342 733.6,344 732.4,344.8 730,343Z" fill="#fff7ec"/>
<path d="M733,339.6 735,341 734.4,341.6Z" fill="#fff7ec"/>
<path d="M217.3,272 218,271.44 218.7,272 218,272.56Z" fill="#fff7ec"/>
<path d="M219.3,276 220,275.44 220.7,276 220,276.56Z" fill="#fff7ec"/>
<path d="M220.3,281 221,280.44 221.7,281 221,281.56Z" fill="#fff7ec"/>
<path d="M221.3,285 222,284.44 222.7,285 222,285.56Z" fill="#fff7ec"/>
<path d="M220.3,289 221,288.44 221.7,289 221,289.56Z" fill="#fff7ec"/>
<path d="M218.8,293 219.5,292.44 220.2,293 219.5,293.56Z" fill="#fff7ec"/>
<path d="M305.3,274 306,273.44 306.7,274 306,274.56Z" fill="#fff7ec"/>
<path d="M308.3,275 309,274.44 309.7,275 309,275.56Z" fill="#fff7ec"/>
<path d="M309.3,278 310,277.44 310.7,278 310,278.56Z" fill="#fff7ec"/>
<path d="M306.8,279 307.5,278.44 308.2,279 307.5,279.56Z" fill="#fff7ec"/>
<path d="M671.9,298 672.5,297.52 673.1,298 672.5,298.48Z" fill="#fff7ec"/>
<path d="M741.9,300 742.5,299.52 743.1,300 742.5,300.48Z" fill="#fff7ec"/>
<path d="M756.9,299 757.5,298.52 758.1,299 757.5,299.48Z" fill="#fff7ec"/>
<path d="M769.4,340 770,339.52 770.6,340 770,340.48Z" fill="#fff7ec"/>
<path d="M774.4,345 775,344.52 775.6,345 775,345.48Z" fill="#fff7ec"/>
<path d="M776.9,350 777.5,349.52 778.1,350 777.5,350.48Z" fill="#fff7ec"/>
<path d="M0.4,312 1,311.52 1.6,312 1,312.48Z" fill="#fff7ec"/>
<path d="M492.1,371 493,370.28 493.9,371 493,371.72Z" fill="#fff7ec"/>
<path d="M501.1,446.5 502,445.78 502.9,446.5 502,447.22Z" fill="#fff7ec"/>
</g>
<g stroke="#6b645c" stroke-width="0.5" fill="none" stroke-linejoin="round">
<path d="M161,271.6 163,271"/>
<path d="M159,280 162,277 162.4,276"/>
<path d="M160,282 164,281 167,282.4"/>
<path d="M167,282.4 170,280 173,280"/>
<path d="M169,292 171,289 173,290"/>
<path d="M169.2,289.6 169.6,291.7 169,292.9"/>
<path d="M112,190 172,190 178,192 184,193 190,196 193,200 191,205 188,208 190,209 190,208.5 193,207.5 198,205 201,204.5 205,202.5 210,200.5 215,200 218.5,200 220,197.5 223,199 224.5,200.5"/>
<path d="M128,141 104,162.4 109,165 113,164.4 113.6,170 114.4,173.6"/>
<path d="M223.7,296.5 222.5,299.8 223.7,306.4"/>
<path d="M229.4,303.1 230.3,308.1 231.9,312.2"/>
<path d="M237.4,303.1 236.9,307.2 236,311.4"/>
<path d="M189.5,321.3 193.9,322.1 197.2,324.6 200.5,329.2"/>
<path d="M205.5,346 205,351 205.5,355.9 203.8,360.9 203.8,365.8"/>
<path d="M203.8,365.8 204.7,370 206.3,374.9 209.6,379.1"/>
<path d="M209,374 212,377 216,376 220,375 221,370 225,369 230,369 232,370"/>
<path d="M221,370 221.6,374 224,378 229,381 233,384 234,389 239,389 241,386"/>
<path d="M209,374 212,377 210,382 209,390 210,400 211,410 212,420 214,430 216,438 217,446 221,452 227,454"/>
<path d="M237,397 235,399 235,404 237,408"/>
<path d="M330,261.9 334.1,261.9 334.1,257 337.4,255.3 337.4,249.5 343.2,246.2 343.2,244.6 344,245.4"/>
<path d="M358.9,226.4 359.7,232.2 357.2,235.5 351.5,238.8 346.5,242.1 344,244.6 343.2,246.2"/>
<path d="M344,245.4 349.5,253.2"/>
<path d="M349.5,253.2 370.4,267.7 372.1,268.5 384.5,260.3 387,257 389.4,257 396.9,257.8 416.7,266.9"/>
<path d="M384.2,239.2 385.3,242.9 385.3,249.5 387,255.3 389.4,257"/>
<path d="M380.4,220.8 381.2,224.2 380,228.3 379.2,230.4 381.7,233.3 383.3,235.8 384.2,239.2 385.4,236.2 386.7,234.2 388.3,232.1"/>
<path d="M417.5,235.5 418.3,261.1 445.6,261.1"/>
<path d="M418.3,261.1 420,261.4 420,266 417.2,266.9"/>
<path d="M335.8,280.1 333.3,277.6 330,275.9"/>
<path d="M349.5,253.2 350.1,266 349.8,279.2 335.8,280.1"/>
<path d="M447,273 452,276 458,283 460,287 462,289.6"/>
<path d="M460,287 460,288"/>
<path d="M433.8,309.9 438,308.5 443,307.8 443.7,307.8"/>
<path d="M431.6,321.3 433,320.5 440.8,321 447.2,324.8 452.2,329 454.3,330.5"/>
<path d="M430.9,322 433,321.3 434.5,323.4 433,324.8 431.2,325.2"/>
<path d="M442.3,349.6 446.5,348.9 452.2,347.5 455.7,346"/>
<path d="M433,339.7 436.6,341.8 439.4,343.2 439.1,346.8 438.7,351 440.1,353.8 440.8,356"/>
<path d="M439.4,343.2 440.8,343.9 441.5,348.2 442.3,349.6"/>
<path d="M391.3,331.2 391.3,333.3 392.7,333.3"/>
<path d="M415.3,346.8 418.2,347.5 417.5,350.3 413.2,351.7 412.5,356.7 413.2,362.3 415.3,363.8 411.8,364.5 405.4,363.8 398.3,363 389.8,363"/>
<path d="M415.3,363.8 418.2,364.5 422.4,364.5 426.7,362.3 430.9,359.5 432.3,357.4"/>
<path d="M430.9,359.5 433.8,360.2 437.3,360.9 438.7,363.8 438,368 435.9,372.3 434.5,375.8 430.2,375.8 426.7,373.7 424.5,370.1 421.7,366.6 418.2,364.5"/>
<path d="M411.8,364.5 411.1,370.8 411.1,378.6 407.5,379.3 408.3,385"/>
<path d="M430.2,375.8 428.1,377.9 425.3,380.8 421.7,383.6 419.6,385"/>
<path d="M411,365 410,374 408,380 408,390 406,393 402,394"/>
<path d="M409,389 412,386 416,387 420,384 424,380 428,375 434,376"/>
<path d="M384.9,312.8 389.8,312 395.5,312.8 397.6,313.5"/>
<path d="M385.2,312.3 389.4,312.3 389.4,315.2 385.2,315.5"/>
<path d="M356.6,290.4 356.6,298.2 356.1,304.5"/>
<path d="M362.5,289.4 365.1,290.4"/>
<path d="M345.5,292.5 344.1,294.6 343.4,298.2 344.8,302.4 345.5,306.7"/>
<path d="M345.5,292.5 350.5,291.1"/>
<path d="M335.6,282.6 332.8,284 328.5,284.7 325.7,285.4"/>
<path d="M324.3,283.3 328.5,282.9 332,282.3 335.6,282.6"/>
<path d="M337.7,285.4 338.4,289.7 341.3,292.5 343.4,294.6 344.1,294.6"/>
<path d="M332.8,296 334.2,292.5 337,291.1 339.1,292.5 338.4,296.8 337,300.3"/>
<path d="M338.4,296.8 341.3,298.2 343.4,298.2"/>
<path d="M327.8,289.7 331.3,288.3 335.6,287.5 337.7,285.4"/>
<path d="M324.3,263.5 334.2,263.5 334.2,254.3 337,250"/>
<path d="M336.3,279.8 328.5,279 323.5,275.5"/>
<path d="M538.5,189.8 536.9,194.8 532.7,196.4 531.1,200.5 531.9,203.8 529.4,207.1 526.1,209.6 522.8,211.3"/>
<path d="M538.5,189.8 542.6,193.1 547.6,196.4 552.5,200.5 559.2,203 565.8,205.5 572.4,207.1 579,208.8 583.9,209.6 588.9,208 593.8,206.3 594.6,202.2 600.4,200.5 607,196.4 603.7,193.9 598.8,193.1 597.1,189.8 599.6,186.5 601.2,182.4"/>
<path d="M479.1,200.5 484.9,199.7 490.6,202.2 497.2,205.5 503,208.8 507.1,211.3 509.6,208.8 512.9,207.1 519.5,205.5 526.1,205.5 531.1,203.8"/>
<path d="M507.1,211.3 510.4,212.1 513.8,213.8 517.9,213.8 522.8,211.3"/>
<path d="M510.4,212.1 508,213.8 508.8,217.9 512.1,220.4 516.2,218.7 519.5,219.5 523.7,219.5 521.2,216.2 517.9,213.8"/>
<path d="M479.1,205.5 482.4,208 486.5,207.1 489.8,209.6 494.8,213.8 499.7,217.1 505.5,219.5 508,217.9"/>
<path d="M478.3,218.7 483.2,219.5 488.2,221.2 494.8,225.3"/>
<path d="M479.1,200.5 477.9,203 479.1,205.5"/>
<path d="M524.5,221.2 527.8,222 531.9,226.1 535.2,229.4 536.9,233.6 540.2,237.7 541,240.2 545.1,238.5 552.5,242.6 560,245.9 561.6,245.1 567.4,244.3 572.4,244.3 576.5,241.8 579,244.3"/>
<path d="M541,240.2 541.8,242.6 545.9,245.1 552.5,247.6 559.2,249.2 560,245.9"/>
<path d="M561.6,245.1 562.5,248.4 568.2,247.6 567.4,244.3"/>
<path d="M531.9,226.1 527.8,227.8 527,231.1 527.8,235.2 527,240.2 524.5,243.5 520.4,246.8 521.2,249.2 522.8,253.4"/>
<path d="M560,249.2 564.1,250.6 568.2,248.4"/>
<path d="M569.1,255.8 570.7,259.2 572.4,255.8"/>
<path d="M591,262 593,259.5 595,258 600,257 603.5,258.5 606,261.5"/>
<path d="M593,259.5 596,260.5 597.5,263 600,265 599,267 601.5,269.5 604,272 606.5,275 608,278.5 609,282 609.5,286 608.5,289 605.5,290.5 603.5,293"/>
<path d="M591,262 593,264 592.5,267.5 594,271 597.5,270 600,272 601.5,275 602.5,278 600,280 598,282 597.5,284.5"/>
<path d="M602.5,278 605,281 607.5,280.5 608,278.5"/>
<path d="M597,301 600,302"/>
<path d="M615,314 622,316 628,314 632,309 635,308"/>
<path d="M631,211.3 634.3,208.8 636.8,206.3"/>
<path d="M635.1,219.2 639.2,217.9"/>
<path d="M441.8,234.2 443.3,233.3 445.8,231.7 448.3,230.4"/>
<path d="M448.8,231.5 445.4,235.8 446.7,237.5 444.2,240 442.1,241.7 440.2,241.5"/>
<path d="M466.7,241.7 467.5,241.7 469.2,242.1"/>
<path d="M458.7,216.2 457.1,212.9 459.5,211.3 463.2,212.1 466.9,209.6"/>
<path d="M450.5,208 455.4,207.2 460.4,208 464.5,206.4"/>
<path d="M451.3,210.5 455.4,211.3 459.5,211.3"/>
<path d="M480.5,269 484,267 487.5,265.5 488,262 489,259 487,258 483,258 480,257 478.5,254"/>
<path d="M487,258 488.5,255 489.5,252"/>
<path d="M488.5,255 489,259"/>
<path d="M345,207.5 348.8,208.3 349.2,210.4 347.9,213.3 347.5,216.7 347.1,220 346.2,221.7"/>
<path d="M359.2,204.2 362.5,205.4 365.8,206.7 369.2,206.7"/>
<path d="M379.2,175 381.7,174.6"/>
<path d="M389.2,177.5 390.4,180 391.2,182.9 390.8,185 388.3,186.2 387.1,187.9 388.8,189.6 390.4,191.2 388.3,192.1 385.8,193.8 383.3,194.2 381.2,194.6 379.2,193.8 376.7,194.2 375.8,193.3 376.2,190.8 375,190 374.2,188.3 373.8,186.2 374.6,184.2 375.8,181.7 375,179.2"/>
<path d="M367.9,184.6 368.8,185.8 370,186.8 372.1,187.9 374.2,188.3"/>
<path d="M369.6,185.4 371.7,185 373.8,186.2"/>
<path d="M375.8,193.3 375,195.4 375.8,197.1 376.7,198.3 377.5,199.6 378.3,201.7 378.3,203.8"/>
<path d="M381.2,194.6 381.7,196.7 380,197.9 377.5,198.3 376.7,198.3"/>
<path d="M390.8,185 393.3,185.8 395.8,187.1 398.3,187.9 400,189.6 397.5,190.8 395,191.7 392.5,191.7 390.4,191.2"/>
<path d="M400,189.6 400.8,189.2 403.3,188.8 405,189.2"/>
<path d="M395,191.7 396.2,192.9 395.8,195 393.3,196.2 390,197.1 386.7,196.7 384.2,196.2 381.7,196.7"/>
<path d="M396.2,192.9 398.3,193.8 401.7,193.3 405,192.5"/>
<path d="M395.8,195 397.5,197.1 400.8,197.9 405,197.1"/>
<path d="M390,197.1 391.7,198.3 394.2,198.8 396.7,197.9 397.5,197.1"/>
<path d="M390,197.1 390.4,198.8 389.6,200"/>
<path d="M383.8,165.8 384.6,163.3 385,160 384.6,156.7 385.4,154.2 387.5,150.8 390,147.5 392.5,144.6 395.8,142.9 398.3,142.5"/>
<path d="M398.3,142.5 400.8,143.8 402.9,146.2 403.3,148.8 404.2,149.6"/>
<path d="M398.3,142.5 400.8,141.2 404.2,142.1 406.7,140.4 410,140 411.7,140.8 412.9,140.8"/>
<path d="M408.3,168.8 411.7,168.3 415,169.2"/>
<path d="M403.8,171.7 408.3,171.2 412.5,171.7 415,172.5"/>
<path d="M406.2,176.7 408.3,177.9 411.7,177.5 413.3,175 415,172.5"/>
<path d="M405.4,175.7 408.3,174.2 411.7,173.3 414.2,175 417.5,173.3 421.7,174.2 425,176.7 426.2,179.2 426.2,182.5"/>
<path d="M405.8,176.7 409.2,178.3 411.7,177.5 414.2,175"/>
<path d="M411.7,177.5 410.4,180.8 411.7,183.8"/>
<path d="M406.7,196.7 407.5,199.2 409.2,201.2 411.7,202.1 415,203.3 418.3,202.9 421.7,202.9"/>
<path d="M419.2,192.5 420,194.6 421.7,196.7 422.5,197.9"/>
<path d="M409.2,201.2 408.8,204.2 410,206.7 413.3,207.5 416.7,206.7 420,207.1 421.7,205.4"/>
<path d="M403.3,197.9 404.2,200.8 405.8,203.3 407.5,205 408.8,204.2"/>
<path d="M410,206.7 409.2,209.2 407.5,210.8"/>
<path d="M416.7,206.7 417.5,208.3 420,207.9"/>
<path d="M400,192.9 403.3,192.1 406.7,192.5 408.3,190.4"/>
<path d="M400,196.5 400.8,197.9 404.2,197.9 406.7,196.7 409.2,194.2 411.7,192.5"/>
<path d="M392.9,199.6 395.8,198.8 399.2,198.3 401.7,197.5"/>
<path d="M394.2,201.2 397.5,200.8 400.8,201.2 403.8,200.8 405.8,201.7"/>
<path d="M396.2,202.9 398.8,204.6 401.2,206.2 402.9,208.8"/>
<path d="M403.8,200.8 404.2,204.2 403.3,206.7 404.2,210"/>
<path d="M404.6,211.7 406.7,211.2 409.2,211.7 411.7,213.8"/>
<path d="M405,213.8 407.1,214.2 408.3,212.5 409.2,211.7"/>
</g>
<!-- legend -->
<g>
<rect x="157.5" y="517" width="47" height="11" fill="url(#hatch)" stroke="#d0d0d0" stroke-width="1"/>
<rect x="224.50" y="517" width="58.7" height="11" fill="#fff7ec"/>
<rect x="283.05" y="517" width="58.7" height="11" fill="#fee8c8"/>
<rect x="341.60" y="517" width="58.7" height="11" fill="#fdd49e"/>
<rect x="400.15" y="517" width="58.7" height="11" fill="#fdbb84"/>
<rect x="458.70" y="517" width="58.7" height="11" fill="#fc8d59"/>
<rect x="517.25" y="517" width="58.7" height="11" fill="#ef6548"/>
<rect x="575.80" y="517" width="58.7" height="11" fill="#d7301f"/>
<path d="M634.35,517H687.5L693,522.5L687.5,528H634.35Z" fill="#990000"/>
<path d="M224.50,517.4H283.05M224.50,527.6H283.05" stroke="#d8d2cc" stroke-width="0.8" fill="none"/>
<g stroke="rgba(70,70,70,0.5)" stroke-width="0.9">
<line x1="224.50" y1="514.5" x2="224.50" y2="528"/>
<line x1="283.05" y1="514.5" x2="283.05" y2="528"/>
<line x1="341.60" y1="514.5" x2="341.60" y2="528"/>
<line x1="400.15" y1="514.5" x2="400.15" y2="528"/>
<line x1="458.70" y1="514.5" x2="458.70" y2="528"/>
<line x1="517.25" y1="514.5" x2="517.25" y2="528"/>
<line x1="575.80" y1="514.5" x2="575.80" y2="528"/>
<line x1="634.35" y1="514.5" x2="634.35" y2="528"/>
<line x1="181.2" y1="514.5" x2="181.2" y2="517"/>
</g></g>
</svg>
<div id="title">Death rate in armed conflicts based on where they occurred, <span class="os">202</span><span style="position:relative;top:3.4px;font-size:23.5px;">4</span></div>
<div id="sub">Deaths of combatants and civilians due to fighting, per 100,000 people. Included are armed conflicts that were<br>ongoing that year.</div>
<div id="logo"><span>Our World<br>in Data</span></div>
<div class="lg" style="left:181px">No data</div>
<div class="lg" style="left:224.8px">0</div>
<div class="lg" style="left:283.4px">0.1</div>
<div class="lg" style="left:341.9px">0.3</div>
<div class="lg" style="left:400.4px">1</div>
<div class="lg" style="left:459.0px">3</div>
<div class="lg" style="left:517.5px">10</div>
<div class="lg" style="left:576.1px">30</div>
<div class="lg" style="left:634.6px">100</div>
<div id="src"><b>Data source:</b> Uppsala Conflict Data Program (2025); geoBoundaries (2023); Population based on various sources (2024)</div>
<div id="src2">OurWorldinData.org/war-and-peace | CC BY</div>
</body></html>
